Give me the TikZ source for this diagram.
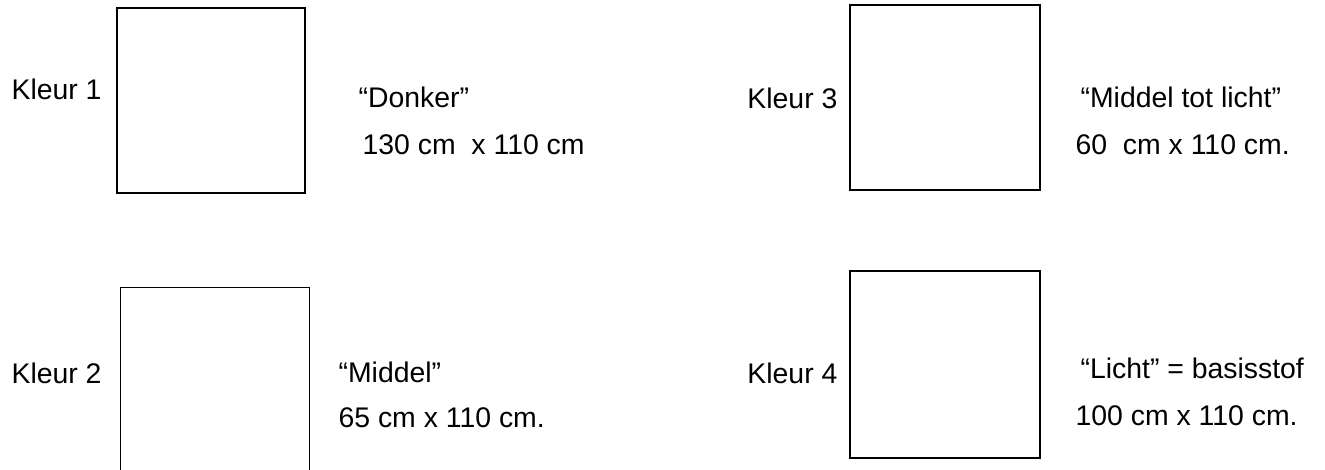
\documentclass[tikz,border=0pt]{standalone}
\usepackage{fontspec}
\setmainfont{Liberation Sans}
\usepackage{tikz}
\usetikzlibrary{positioning}

\begin{document}
\begin{tikzpicture} [x = 1bp, y = -1bp, line width = 1.2pt,
  box/.style = {draw, rectangle, inner sep = 0pt},
  txt/.style = {inner sep = 0pt, font = \fontsize{28.5}{34}\selectfont}]
\useasboundingbox (0,0) rectangle (1325,470);
\node[box, minimum width = 188bp, minimum height = 185bp](b1) at (211,100.5){};
\node[rectangle, inner sep = 0pt, minimum width = 188bp, minimum height = 184bp](b2) at (215,380){};
\node[box, minimum width = 190bp, minimum height = 185bp](b3) at (945,97.5){};
\node[box, minimum width = 190bp, minimum height = 187bp](b4) at (945,364.5){};
\draw (b2.south west) |- (b2.north east) -- (b2.south east);
\node[txt, anchor = base west](k1) at (11,100){Kleur 1};
\node[txt, anchor = base west](k2) at (11,383){Kleur 2};
\node[txt, anchor = base east](k3) at (838,109){Kleur 3};
\node[txt, anchor = base east](k4) at (838,383){Kleur 4};
\node[txt, anchor = base west](n1) at (358,108){“Donker”};
\node[txt, anchor = base west](m1) at (362,155){130 cm\ \ x 110 cm};
\node[txt, anchor = base west](n2) at (338,382){“Middel”};
\node[txt, anchor = base west](m2) at (338,427){65 cm x 110 cm.};
\node[txt, anchor = base west](n3) at (1080,108){“Middel tot licht”};
\node[txt, anchor = base west](m3) at (1075,155){60\ \ cm x 110 cm.};
\node[txt, anchor = base west](n4) at (1080,378){“Licht” = basisstof};
\node[txt, anchor = base west](m4) at (1075,425){100 cm x 110 cm.};
\end{tikzpicture}
\end{document}
